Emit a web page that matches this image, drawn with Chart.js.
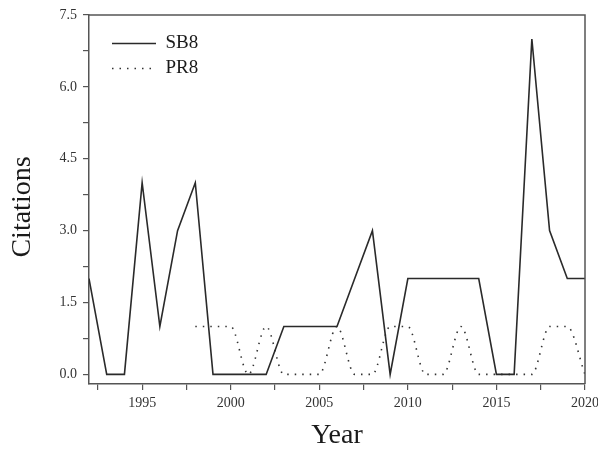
<!DOCTYPE html>
<html>
<head>
<meta charset="utf-8">
<script src="https://cdn.jsdelivr.net/npm/chart.js@4/dist/chart.umd.min.js"></script>
<style>
  html, body { margin: 0; padding: 0; background: #fff; }
  canvas { display: block; }
</style>
</head>
<body>
<canvas id="chart" width="598" height="454"></canvas>
<script>
const years = [1992, 1993, 1994, 1995, 1996, 1997, 1998, 1999, 2000, 2001,
  2002, 2003, 2004, 2005, 2006, 2007, 2008, 2009, 2010, 2011,
  2012, 2013, 2014, 2015, 2016, 2017, 2018, 2019, 2020];
const sb8 = [2, 0, 0, 4, 1, 3, 4, 0, 0, 0,
  0, 1, 1, 1, 1, 2, 3, 0, 2, 2,
  2, 2, 2, 0, 0, 7, 3, 2, 2];

const pr8Years = [1998, 1999, 2000, 2001, 2002, 2003, 2004, 2005, 2006, 2007,
  2008, 2009, 2010, 2011, 2012, 2013, 2014, 2015, 2016, 2017,
  2018, 2019, 2020];
const pr8 = [1, 1, 1, 0, 1, 0, 0, 0, 1, 0,
  0, 1, 1, 0, 0, 1, 0, 0, 0, 0,
  1, 1, 0];

const xTicks = [1992.5, 1995, 1997.5, 2000, 2002.5, 2005, 2007.5, 2010, 2012.5, 2015, 2017.5, 2020];
const xTickLabels = ["", "1995", "", "2000", "", "2005", "", "2010", "", "2015", "", "2020"];
const yTicks = [0, 0.75, 1.5, 2.25, 3, 3.75, 4.5, 5.25, 6, 6.75, 7.5];
const yTickLabels = ["0.0", "", "1.5", "", "3.0", "", "4.5", "", "6.0", "", "7.5"];

const serif = "'Liberation Serif', 'Times New Roman', serif";
const axisColor = "#555";

// legend sits inside the plot, chart.js puts a vertical chartArea legend at top 0
const legendPlacePlugin = {
  id: "legendPlace",
  afterLayout(chart) {
    const lg = chart.legend;
    if (!lg) return;
    const h = lg.height;
    lg.left = chart.chartArea.left + 17;
    lg.top = chart.chartArea.top + 13;
    lg.bottom = lg.top + h;
  },
};

// top/right frame and the rotated y title
const framePlugin = {
  id: "frame",
  afterDraw(chart) {
    const { ctx, chartArea } = chart;
    ctx.save();
    ctx.strokeStyle = axisColor;
    ctx.lineWidth = 1.5;
    ctx.beginPath();
    ctx.moveTo(chartArea.left, chartArea.top);
    ctx.lineTo(chartArea.right, chartArea.top);
    ctx.lineTo(chartArea.right, chartArea.bottom);
    ctx.stroke();

    ctx.translate(23, 207);
    ctx.rotate(-Math.PI / 2);
    ctx.fillStyle = "#1a1a1a";
    ctx.font = "28px " + serif;
    ctx.textAlign = "center";
    ctx.textBaseline = "middle";
    ctx.fillText("Citations", 0, 0);
    ctx.restore();
  },
};

new Chart(document.getElementById("chart"), {
  type: "line",
  data: {
    datasets: [
      {
        label: "SB8",
        data: years.map((y, i) => ({ x: y, y: sb8[i] })),
        borderColor: "#2a2a2a",
        borderWidth: 1.6,
        pointRadius: 0,
        tension: 0,
        fill: false,
      },
      {
        label: "PR8",
        data: pr8Years.map((y, i) => ({ x: y, y: pr8[i] })),
        borderColor: "#333",
        borderWidth: 1.6,
        borderDash: [1.5, 6],
        pointRadius: 0,
        cubicInterpolationMode: "monotone",
        fill: false,
      },
    ],
  },
  options: {
    responsive: false,
    animation: false,
    layout: { padding: { top: 15, right: 13, left: 0, bottom: 0 } },
    scales: {
      x: {
        type: "linear",
        min: 1992,
        max: 2020,
        afterBuildTicks: (scale) => {
          scale.ticks = xTicks.map((v) => ({ value: v }));
        },
        afterFit: (scale) => {
          scale.height = 70;
          scale.paddingLeft = 0;
          scale.paddingRight = 0;
        },
        border: { display: true, color: axisColor, width: 1.5 },
        grid: {
          drawOnChartArea: false,
          drawTicks: true,
          tickLength: 6,
          color: axisColor,
          lineWidth: 1.2,
        },
        ticks: {
          autoSkip: false,
          maxRotation: 0,
          padding: 5,
          color: "#333",
          font: { family: serif, size: 14 },
          callback: (value, index) => xTickLabels[index],
        },
        title: {
          display: true,
          text: "Year",
          color: "#1a1a1a",
          font: { family: serif, size: 28 },
          padding: { top: 0, bottom: 2 },
        },
      },
      y: {
        min: -0.2,
        max: 7.5,
        afterBuildTicks: (scale) => {
          scale.ticks = yTicks.map((v) => ({ value: v }));
        },
        afterFit: (scale) => {
          scale.width = 89;
          scale.paddingTop = 0;
          scale.paddingBottom = 0;
        },
        border: { display: true, color: axisColor, width: 1.5 },
        grid: {
          drawOnChartArea: false,
          drawTicks: true,
          tickLength: 6,
          color: axisColor,
          lineWidth: 1.2,
        },
        ticks: {
          autoSkip: false,
          padding: 6,
          color: "#333",
          font: { family: serif, size: 14 },
          callback: (value, index) => yTickLabels[index],
        },
      },
    },
    plugins: {
      legend: {
        position: "chartArea",
        align: "start",
        labels: {
          usePointStyle: true,
          pointStyle: "line",
          pointStyleWidth: 44,
          padding: 6,
          color: "#1a1a1a",
          font: { family: serif, size: 19 },
          generateLabels: (chart) =>
            Chart.defaults.plugins.legend.labels.generateLabels(chart).map((item) => {
              const ds = chart.data.datasets[item.datasetIndex];
              item.lineDash = ds.borderDash || [];
              item.lineWidth = ds.borderWidth;
              item.strokeStyle = ds.borderColor;
              return item;
            }),
        },
      },
      tooltip: { enabled: false },
    },
  },
  plugins: [legendPlacePlugin, framePlugin],
});
</script>
</body>
</html>
